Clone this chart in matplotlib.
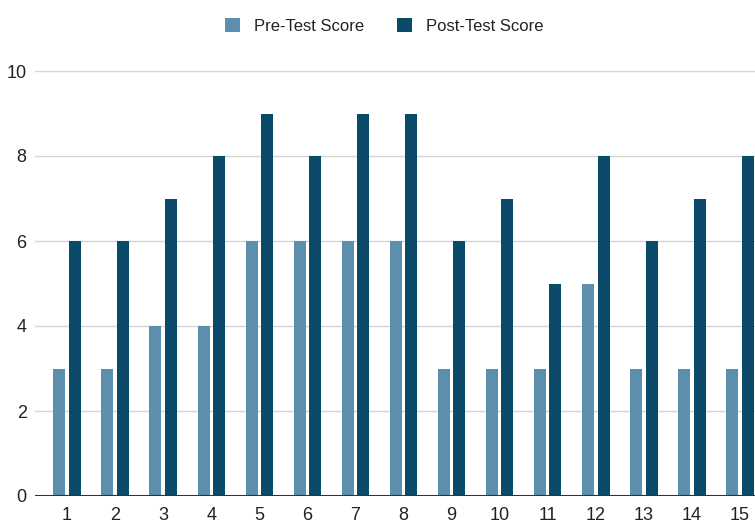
import numpy as np
import matplotlib.pyplot as plt

students = [str(i) for i in range(1, 16)]
pre_scores = [3, 3, 4, 4, 6, 6, 6, 6, 3, 3, 3, 5, 3, 3, 3]
post_scores = [6, 6, 7, 8, 9, 8, 9, 9, 6, 7, 5, 8, 6, 7, 8]

plt.rcParams['font.family'] = ['Liberation Sans', 'DejaVu Sans']

fig = plt.figure(figsize=(7.55, 5.24), dpi=100)
ax = fig.add_axes([35 / 755, 1 - 496 / 524, 1 - 35 / 755, (496 - 71) / 524])

x = np.arange(1, 16)
w = 0.25
ax.bar(x - 0.16, pre_scores, w, color='#5b8fad', label='Pre-Test Score', zorder=3)
ax.bar(x + 0.16, post_scores, w, color='#0b4a6b', label='Post-Test Score', zorder=3)

ax.set_xlim(0.334, 15.31)
ax.set_ylim(0, 10)
ax.set_yticks([0, 2, 4, 6, 8, 10])
ax.set_xticks(x)
ax.set_xticklabels(students)
ax.grid(axis='y', color='#d4d4d4', linewidth=1, zorder=0)
ax.axhline(0, color='#333333', linewidth=1.5, zorder=4)
for s in ax.spines.values():
    s.set_visible(False)
ax.tick_params(length=0, labelsize=13, colors='#222222')
ax.tick_params(axis='x', pad=8)
ax.tick_params(axis='y', pad=6)

fig.legend(loc='center', bbox_to_anchor=(0.509, 0.95), ncol=2, frameon=False,
           fontsize=12, handlelength=0.9, handleheight=0.9, columnspacing=2.0,
           handletextpad=0.8, labelcolor='#222222')

fig.savefig('out.png', dpi=100)
